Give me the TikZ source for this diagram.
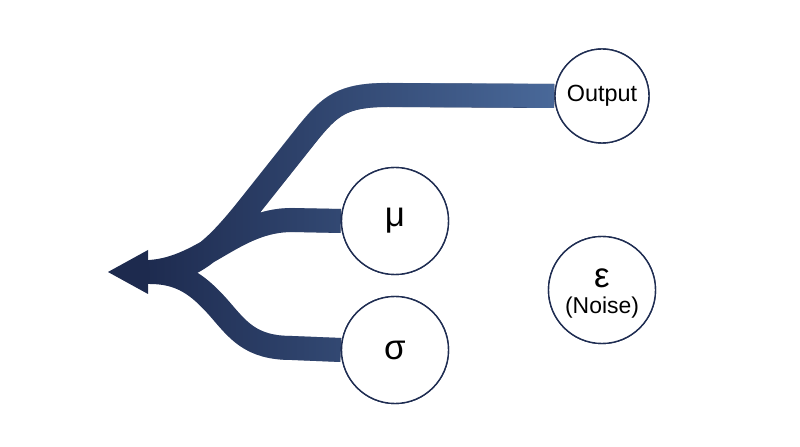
\documentclass[tikz,border=0pt]{standalone}
\usepackage{fontspec}
\setmainfont{Liberation Sans}
\usetikzlibrary{fadings}
\definecolor{bandL}{HTML}{1D2A4E}
\definecolor{bandR}{HTML}{4B6B9C}
\definecolor{ring}{HTML}{1F2D52}
\tikzfading[name=lrfade, left color=transparent!100, middle color=transparent!30, right color=transparent!0]
\begin{document}
\begin{tikzpicture}[x=1bp,y=-1bp,
  circ/.style={circle, draw=ring, line width=1.4bp, fill=white, inner sep=0pt, minimum size=#1},
  band/.style={line width=24bp, line cap=butt, line join=round},
  big/.style={font=\fontsize{35}{37}\selectfont},
  small/.style={font=\fontsize{23}{25}\selectfont}]
\useasboundingbox (0,0) rectangle (800,447);
\node[circ=94bp] (out) at (602,96) {};
\node[circ=107bp] (mu) at (395,221) {};
\node[circ=107bp] (sig) at (395,350) {};
\node[circ=107bp] (eps) at (602,290) {};
\coordinate (J) at (150,272);
\coordinate (A) at (108,272);
\tikzset{
  pout/.style={insert path={(out.west) -- (388,95) .. controls (342,95) and (330,106) .. (308,133) -- (250,206) .. controls (215,250) and (192,272) .. (J)}},
  pmu/.style={insert path={(mu.west) -- (292,220) .. controls (235,220) and (205,268) .. (J)}},
  psig/.style={insert path={(sig.west) -- (292,348) .. controls (250,348) and (238,330) .. (218,307) .. controls (199,286) and (182,272) .. (J)}}
}
% dark bands
\draw[band, draw=bandL, pout, pmu, psig];
\fill[bandL] (A) -- (148,250) -- (148,294) -- cycle;
\fill[bandL] (146,260) rectangle (152,284);
% lighter overlay, one path, faded from left to right
\draw[band, draw=bandR, path fading=lrfade, pout, pmu, psig];
% circles on top
\node[circ=94bp] at (out) {\fontsize{23.5}{25}\selectfont Output};
\node[circ=107bp] at (mu) {\fontsize{35}{37}\selectfont μ};
\node[circ=107bp] at (sig) {\fontsize{35}{37}\selectfont σ};
\node[circ=107bp] at (eps) {};
\node[big, inner sep=0pt] (epsl) at (602,278) {ε};
\node[small, inner sep=0pt] (noise) at (602,308) {(Noise)};
\end{tikzpicture}
\end{document}
